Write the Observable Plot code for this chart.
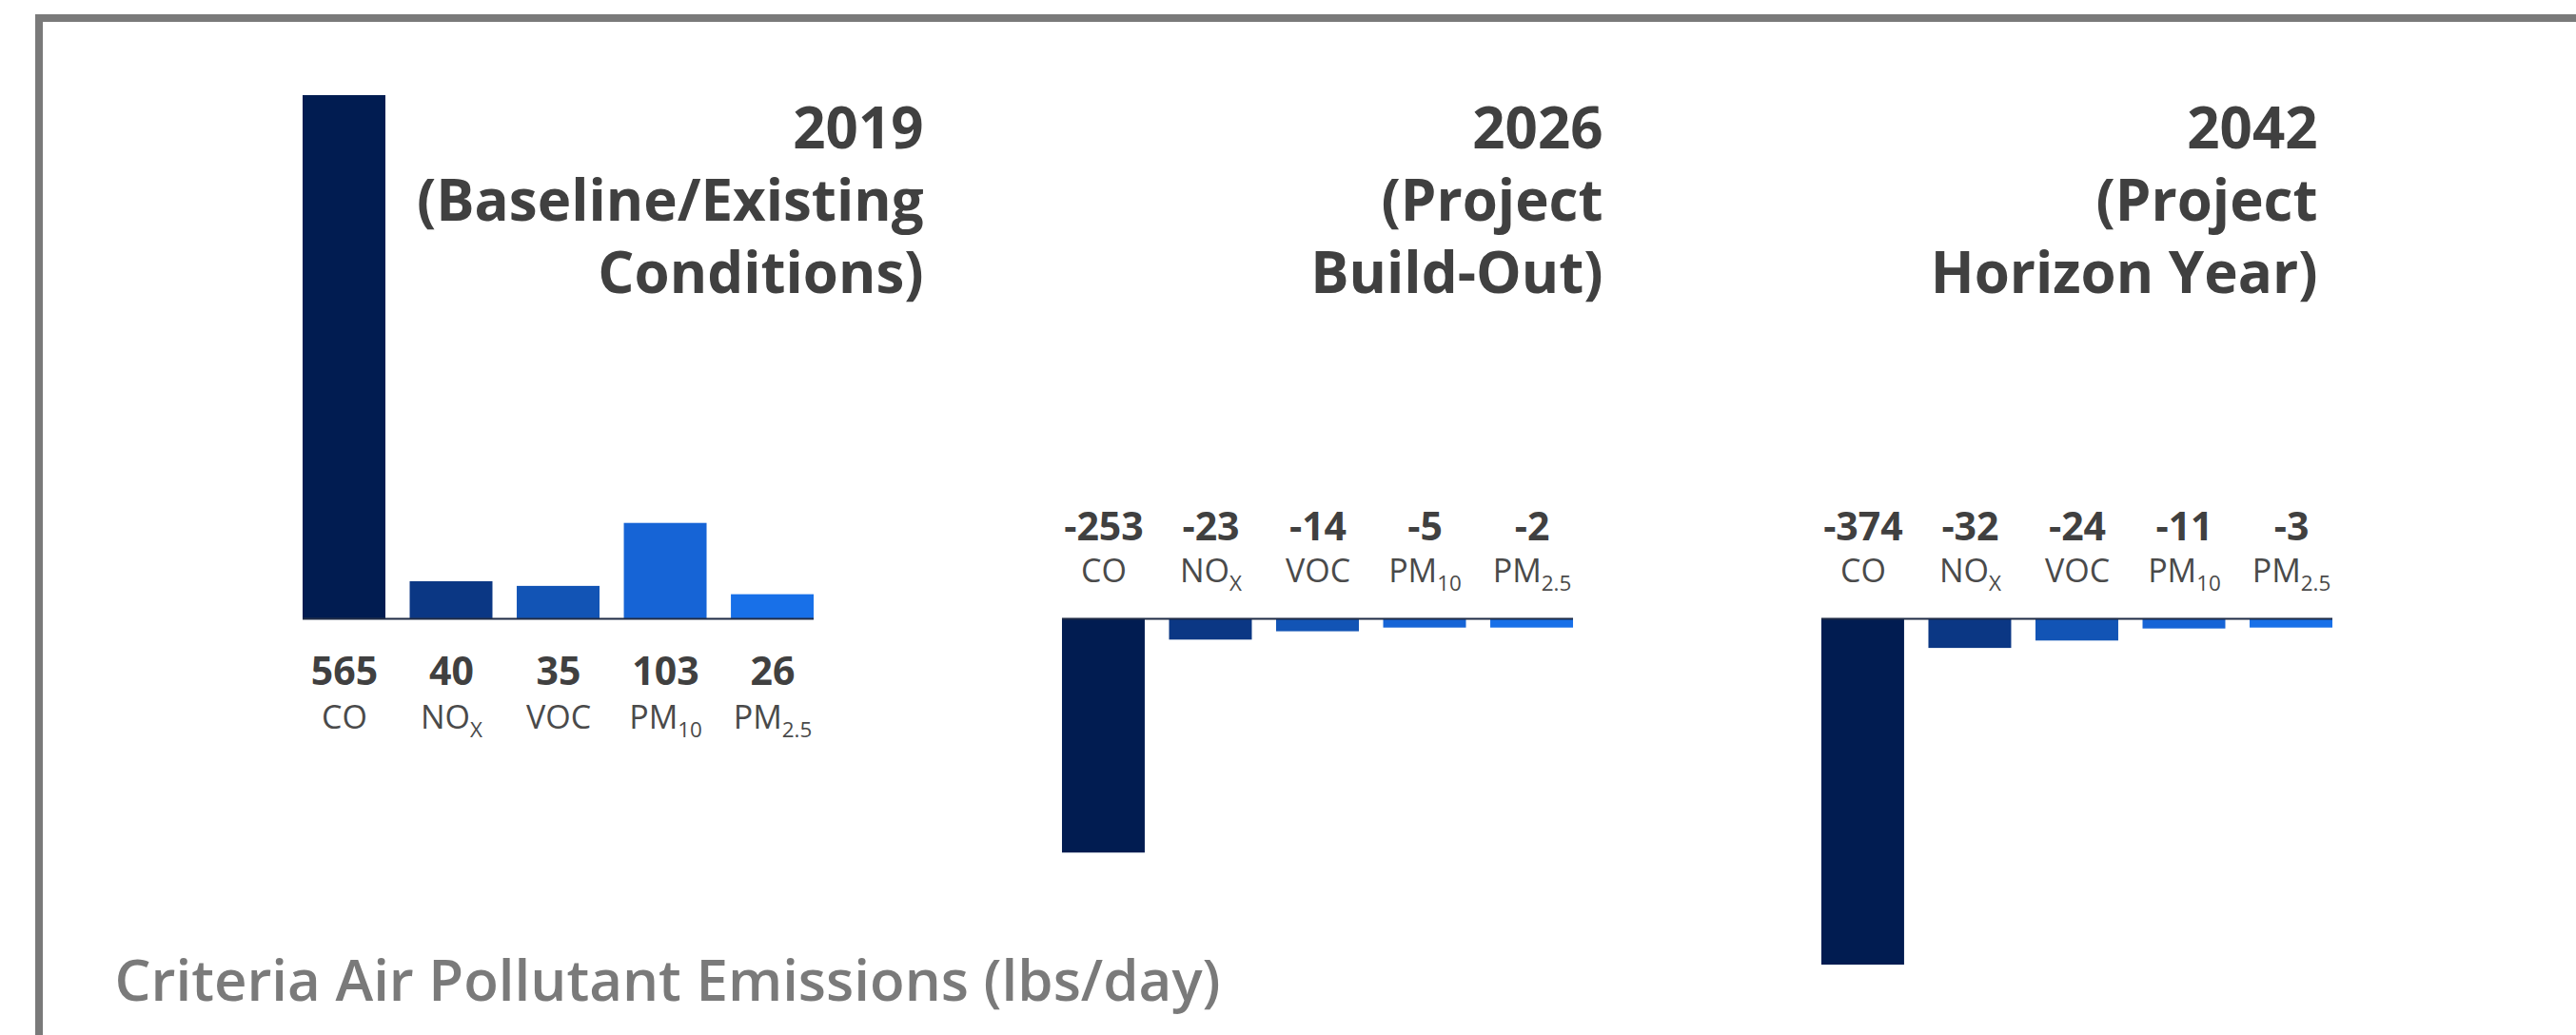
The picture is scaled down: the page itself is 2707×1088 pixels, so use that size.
<!DOCTYPE html>
<html>
<head>
<meta charset="utf-8">
<script src="https://cdn.jsdelivr.net/npm/d3@7"></script>
<script src="https://cdn.jsdelivr.net/npm/@observablehq/plot@0.6"></script>
<style>
  html, body { margin: 0; padding: 0; background: #ffffff; overflow: hidden; }
  #wrap { position: relative; width: 2707px; height: 1088px; }
  #chart svg { display: block; }
  #frame {
    position: absolute; left: 37px; top: 15px; right: -40px; bottom: -40px;
    border-left: 8px solid #7a7a7a; border-top: 8px solid #7a7a7a;
    pointer-events: none;
  }
</style>
</head>
<body>
<div id="wrap">
  <div id="chart"></div>
  <div id="frame"></div>
</div>
<script>
// ---- data ----
const periods = ["2019", "2026", "2042"];
const titles = [
  "2019\n(Baseline/Existing\nConditions)",
  "2026\n(Project\nBuild-Out)",
  "2042\n(Project\nHorizon Year)"
];
const pollutants = ["CO", "NOX", "VOC", "PM10", "PM2.5"];
const labelBase = ["CO", "NO", "VOC", "PM", "PM"];
const labelSub = ["", "X", "", "10", "2.5"];
const values2019 = [565, 40, 35, 103, 26];
const values2026 = [-253, -23, -14, -5, -2];
const values2042 = [-374, -32, -24, -11, -3];
const barColors = ["#011c51", "#0b3784", "#1254b5", "#1664d6", "#1870e8"];
const captionText = "Criteria Air Pollutant Emissions (lbs/day)";

// ---- table built from arrays ----
const series = [values2019, values2026, values2042];
const rows = [];
periods.forEach((p, i) => pollutants.forEach((k, j) => rows.push({period: p, pollutant: k, value: series[i][j]})));
const pos = rows.filter(d => d.value >= 0);
const neg = rows.filter(d => d.value < 0);
const posPeriods = periods.filter((p, i) => series[i].every(v => v >= 0));
const nameRowsPos = rows.filter(d => posPeriods.includes(d.period));
const nameRowsNeg = rows.filter(d => !posPeriods.includes(d.period));

// style: tiny bars are drawn with a minimum visible length (as in the source graphic)
const minBarLength = 10;
const barLength = d => Math.sign(d.value) * Math.max(Math.abs(d.value), minBarLength);

const font = "'Segoe UI', 'Open Sans', 'Noto Sans', sans-serif";
const titleDx = [115, 31, -16];

const plot = Plot.plot({
  width: 2707,
  height: 1088,
  marginLeft: 318,
  marginRight: 256,
  marginTop: 0,
  marginBottom: 0,
  style: {background: "transparent", fontFamily: font, overflow: "visible"},
  fx: {domain: periods, paddingInner: 0.327, paddingOuter: 0, round: false, axis: null, label: null},
  x: {domain: pollutants, paddingInner: 0.227, paddingOuter: 0, round: false, axis: null},
  y: {domain: [-374, 565], range: [1014, 100], axis: null},
  color: {domain: pollutants, range: barColors},
  marks: [
    Plot.barY(rows, {fx: "period", x: "pollutant", y: barLength, fill: "pollutant"}),
    Plot.ruleY([0], {stroke: "#1f2b45", strokeWidth: 2}),
    // value labels
    Plot.text(pos, {fx: "period", x: "pollutant", y: 0, text: d => String(d.value),
      lineAnchor: "bottom", dy: 70, fontSize: 41, fontWeight: 700, fill: "#404040"}),
    Plot.text(neg, {fx: "period", x: "pollutant", y: 0, text: d => String(d.value),
      lineAnchor: "bottom", dy: -82, fontSize: 41, fontWeight: 700, fill: "#404040"}),
    // pollutant names
    Plot.text(nameRowsPos, {fx: "period", x: "pollutant", y: 0, text: "pollutant",
      lineAnchor: "bottom", dy: 116, fontSize: 34, fontWeight: 400, fill: "#4a4a4a"}),
    Plot.text(nameRowsNeg, {fx: "period", x: "pollutant", y: 0, text: "pollutant",
      lineAnchor: "bottom", dy: -38, fontSize: 34, fontWeight: 400, fill: "#4a4a4a"}),
    // panel titles
    ...periods.map((p, i) => Plot.text([{period: p, title: titles[i]}], {
      fx: "period", text: "title", frameAnchor: "top-right", textAnchor: "end", lineAnchor: "top",
      lineHeight: 1.27, dx: titleDx[i], dy: 101, fontSize: 60, fontWeight: 700, fill: "#404040"
    })),
    // caption
    Plot.text([{period: periods[0], label: captionText}], {
      fx: "period", text: "label", frameAnchor: "bottom-left", textAnchor: "start", lineAnchor: "bottom",
      dx: -198, dy: -37, fontSize: 60, fontWeight: 600, fill: "#7a7a7a"
    })
  ]
});

// subscripts for pollutant names
d3.select(plot).selectAll("text").each(function () {
  if (this.querySelector("tspan")) return;
  const j = pollutants.indexOf(this.textContent);
  if (j < 0) return;
  const el = d3.select(this);
  el.text(null);
  el.append("tspan").text(labelBase[j]);
  if (labelSub[j]) el.append("tspan").attr("font-size", "0.66em").attr("dy", "0.4em").text(labelSub[j]);
});

document.getElementById("chart").appendChild(plot);
</script>
</body>
</html>
